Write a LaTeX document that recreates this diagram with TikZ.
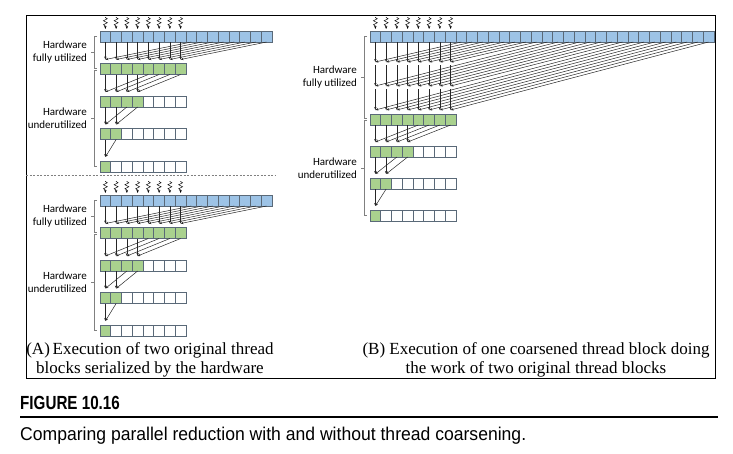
\documentclass[tikz,border=0pt]{standalone}
\usepackage{fontspec}
\setmainfont{Liberation Serif}
\newfontfamily\hwfont{Carlito}
\newfontfamily\capfont[FakeStretch=0.95]{Liberation Sans}
\newfontfamily\figfont[FakeStretch=0.8]{Liberation Sans}
\usepackage{xcolor}
\definecolor{accentblue}{RGB}{157,195,230}
\definecolor{accentgreen}{RGB}{169,209,142}
\definecolor{celledge}{RGB}{90,105,120}
\usepackage{tikz}
\usetikzlibrary{arrows.meta,positioning,calc,decorations.pathmorphing}
\tikzset{
  cell/.style={draw=celledge,line width=0.7pt,fill=white,%
    minimum width=10.75pt,minimum height=11pt,inner sep=0pt,outer sep=0pt},
  flow/.style={-{Stealth[length=3pt,width=2.4pt]},line width=0.5pt,draw=black!85},
  squig/.style={-{Stealth[length=3pt,width=2.4pt]},line width=0.5pt,decorate,%
    decoration={snake,amplitude=1.9pt,segment length=4pt,pre length=0.5pt,post length=3pt}},
  brace/.style={draw=gray,line width=0.6pt},
  hwlabel/.style={font=\hwfont\fontsize{11}{13}\selectfont,align=right,anchor=east,inner sep=0pt},
  caption/.style={font=\fontsize{17}{19.5}\selectfont,align=center,anchor=north,inner sep=0pt},
}

\begin{document}
\begin{tikzpicture}[x=1pt,y=-1pt]
\useasboundingbox (0,0) rectangle (733,453);
\draw[line width=0.9pt] (26,15) rectangle (715,378);

% (A) two original blocks, run one after the other
\foreach \p/\yo in {At/31,Ab/195}{
  \foreach \i in {0,...,15}
    \node[cell,fill=accentblue] (\p0-\i) at ({100+10.75*(\i+0.5)},\yo+5.5) {};
  \foreach \r/\g in {1/8,2/4,3/2,4/1}
    \foreach \i in {0,...,7}{
      \ifnum\i<\g \def\fc{accentgreen}\else\def\fc{white}\fi
      \node[cell,fill=\fc] (\p\r-\i) at ({100+10.75*(\i+0.5)},{\yo+32.5*\r+5.5}) {};
    }
  \foreach \r/\g in {1/8,2/4,3/2,4/1}{
    \pgfmathtruncatemacro\q{\r-1}
    \pgfmathtruncatemacro\gl{\g-1}
    \foreach \i in {0,...,\gl}{
      \pgfmathtruncatemacro\j{\i+\g}
      \coordinate (\p\r-\i-in) at ([yshift=4pt]\p\r-\i.north);
      \draw[flow] (\p\q-\i.south) -- (\p\r-\i-in);
      \draw[flow] (\p\q-\j.south) -- (\p\r-\i-in);
    }
  }
  % threads
  \foreach \i in {0,...,7}{
    \coordinate (\p sq-\i) at ([yshift=14pt]\p0-\i.north);
    \coordinate (\p sq-\i-end) at ([yshift=2pt]\p0-\i.north);
    \draw[squig] (\p sq-\i) -- (\p sq-\i-end);
  }
  \draw[brace] (97,\yo+5.5) -- (94,\yo+5.5) -- (94,\yo+37.5) -- (97,\yo+37.5);
  \draw[brace] (94,\yo+21.5) -- (91,\yo+21.5);
  \draw[brace] (97,\yo+39.5) -- (94,\yo+39.5) -- (94,\yo+135.5) -- (97,\yo+135.5);
  \draw[brace] (94,\yo+87.5) -- (91,\yo+87.5);
  \node[hwlabel] (\p hw1) at (87,\yo+21.5) {Hardware\\fully utilized};
  \node[hwlabel] (\p hw2) at (87,\yo+87.5) {Hardware\\underutilized};
}
\draw[gray,dash pattern=on 2pt off 1.5pt,line width=0.5pt] (26,175) -- (275,175);

% (B) one coarsened block
\foreach \i in {0,...,31}
  \node[cell,fill=accentblue] (B0-\i) at ({370+10.75*(\i+0.5)},36.5) {};
\foreach \r/\g in {1/8,2/4,3/2,4/1}
  \foreach \i in {0,...,7}{
    \ifnum\i<\g \def\fc{accentgreen}\else\def\fc{white}\fi
    \node[cell,fill=\fc] (B\r-\i) at ({370+10.75*(\i+0.5)},{114+32*(\r-1)+5.5}) {};
  }
\foreach \i in {0,...,7}{
  \pgfmathtruncatemacro\ja{\i+8}
  \pgfmathtruncatemacro\jb{\i+16}
  \pgfmathtruncatemacro\jc{\i+24}
  \coordinate (Bs1-\i) at ([yshift=-20pt]B0-\i.south);
  \coordinate (Bs1-\i-out) at ([yshift=-23pt]B0-\i.south);
  \coordinate (Bs2-\i) at ([yshift=-44pt]B0-\i.south);
  \coordinate (Bs2-\i-out) at ([yshift=-47pt]B0-\i.south);
  \coordinate (B1-\i-in) at ([yshift=4pt]B1-\i.north);
  \draw[flow] (B0-\i.south) -- (Bs1-\i);
  \draw[flow] (Bs1-\i-out) -- (Bs2-\i);
  \draw[flow] (Bs2-\i-out) -- (B1-\i-in);
  \draw[flow] (B0-\ja.south) -- (Bs1-\i);
  \draw[flow] (B0-\jb.south) -- (Bs2-\i);
  \draw[flow] (B0-\jc.south) -- (B1-\i-in);
  \coordinate (Bsq-\i) at ([yshift=14pt]B0-\i.north);
  \coordinate (Bsq-\i-end) at ([yshift=2pt]B0-\i.north);
  \draw[squig] (Bsq-\i) -- (Bsq-\i-end);
}
\foreach \r/\g in {2/4,3/2,4/1}{
  \pgfmathtruncatemacro\q{\r-1}
  \pgfmathtruncatemacro\gl{\g-1}
  \foreach \i in {0,...,\gl}{
    \pgfmathtruncatemacro\j{\i+\g}
    \coordinate (B\r-\i-in) at ([yshift=4pt]B\r-\i.north);
    \draw[flow] (B\q-\i.south) -- (B\r-\i-in);
    \draw[flow] (B\q-\j.south) -- (B\r-\i-in);
  }
}
\draw[brace] (367,36.5) -- (364,36.5) -- (364,118.5) -- (367,118.5);
\draw[brace] (364,77.5) -- (361,77.5);
\draw[brace] (367,120.5) -- (364,120.5) -- (364,215.5) -- (367,215.5);
\draw[brace] (364,168) -- (361,168);
\node[hwlabel] (Bhw1) at (357,77.5) {Hardware\\fully utilized};
\node[hwlabel] (Bhw2) at (357,168) {Hardware\\underutilized};

% captions
\node[caption] (capA) at (150,342) {(A)\,Execution of two original thread\\blocks serialized by the hardware};
\node[caption] (capB) at (536,342) {(B) Execution of one coarsened thread block doing\\the work of two original thread blocks};

\node[anchor=base west,inner sep=0pt,font=\figfont\bfseries\fontsize{19}{19}\selectfont] (figno) at (20,409) {FIGURE 10.16};
\draw[line width=1.8pt] (20,417) -- (718,417);
\node[anchor=base west,inner sep=0pt,font=\capfont\fontsize{18.5}{18.5}\selectfont] (figtext) at (20,440) {Comparing parallel reduction with and without thread coarsening.};
\end{tikzpicture}
\end{document}
